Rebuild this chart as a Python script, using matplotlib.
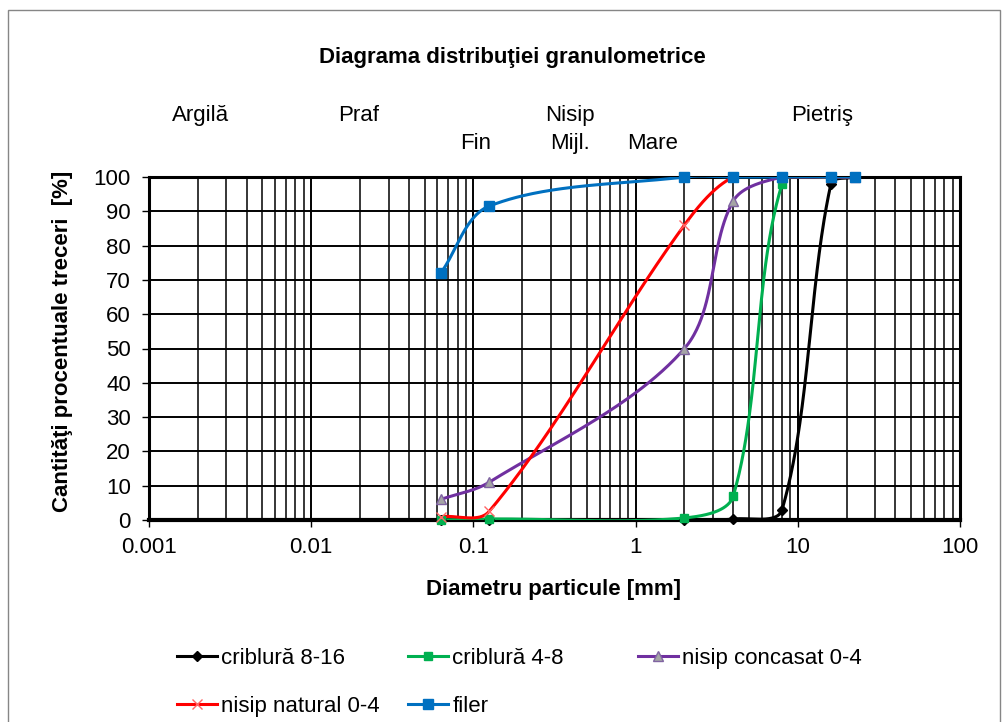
import numpy as np
import matplotlib
matplotlib.use("Agg")
import matplotlib.pyplot as plt
from matplotlib.patches import Rectangle
from matplotlib.lines import Line2D

plt.rcParams['font.family'] = ['Liberation Sans', 'DejaVu Sans']

# ---------------- data ----------------
sieves = [0.063, 0.125, 2, 4, 8, 16, 22.4]
criblura_8_16 = [0, 0, 0, 0.3, 3, 98, 100]
criblura_4_8 = [0, 0.3, 0.6, 7, 98, 100, 100]
nisip_concasat = [6, 11, 50, 93, 100, 100, 100]
nisip_natural = [1, 2.5, 86, 100, 100, 100, 100]
filer = [72, 91.5, 100, 100, 100, 100, 100]

series_names = ["criblură 8-16", "criblură 4-8", "nisip concasat 0-4",
                "nisip natural 0-4", "filer"]
zone_top = ["Argilă", "Praf", "Nisip", "Pietriş"]
zone_sub = ["Fin", "Mijl.", "Mare"]
xticks = [0.001, 0.01, 0.1, 1, 10, 100]
xticklabels = ["0.001", "0.01", "0.1", "1", "10", "100"]
yticks = list(range(0, 101, 10))

W, H = 1008, 722
FS = 16
fig = plt.figure(figsize=(W / 100, H / 100), dpi=100)

def fx(px):
    return px / W

def fy(py):
    return 1 - py / H

# outer chart border
fig.add_artist(Rectangle((fx(8), fy(730)), fx(1000) - fx(8), fy(10) - fy(730),
                         transform=fig.transFigure, fill=False,
                         edgecolor='#868686', lw=1.0))

ax = fig.add_axes([fx(149), fy(520), fx(960) - fx(149), fy(177) - fy(520)])
ax.set_xscale('log')
ax.set_xlim(0.001, 100)
ax.set_ylim(0, 100)

ax.set_xticks(xticks)
ax.set_xticklabels(xticklabels)
ax.set_yticks(yticks)
ax.xaxis.set_minor_locator(matplotlib.ticker.LogLocator(base=10, subs=np.arange(2, 10)))
ax.xaxis.set_minor_formatter(matplotlib.ticker.NullFormatter())
ax.grid(True, which='major', axis='both', color='black', lw=1.4)
ax.grid(True, which='minor', axis='x', color='black', lw=1.1)
ax.set_axisbelow(True)
ax.tick_params(axis='x', which='minor', length=0)
ax.tick_params(axis='x', which='major', length=5, width=1, labelsize=FS, pad=7)
ax.tick_params(axis='y', which='major', length=5, width=1, labelsize=FS, pad=8)
for s in ['left', 'top', 'right']:
    ax.spines[s].set_linewidth(2.2)
ax.spines['bottom'].set_linewidth(3)

fig.canvas.draw()

def smooth_points(xs, ys, nseg=80):
    pts = ax.transData.transform(np.column_stack([xs, ys]))
    n = len(pts)
    out = []
    t = np.linspace(0, 1, nseg)[:, None]
    f = 1.0 / 3.0
    for i in range(n - 1):
        p0 = pts[i - 1] if i > 0 else pts[i]
        p1 = pts[i]
        p2 = pts[i + 1]
        p3 = pts[i + 2] if i + 2 < n else pts[i + 1]
        d01 = np.hypot(*(p1 - p0))
        d12 = np.hypot(*(p2 - p1))
        d23 = np.hypot(*(p3 - p2))
        w1 = d12 / (d01 + d12) if (d01 + d12) > 0 else 0
        w2 = d12 / (d12 + d23) if (d12 + d23) > 0 else 0
        c1 = p1 + (p2 - p0) * f * w1
        c2 = p2 - (p3 - p1) * f * w2
        b = ((1 - t) ** 3) * p1 + 3 * ((1 - t) ** 2) * t * c1 \
            + 3 * (1 - t) * t ** 2 * c2 + t ** 3 * p2
        out.append(b)
    d = np.vstack(out)
    return ax.transData.inverted().transform(d)

styles = [
    dict(data=criblura_8_16, color='#000000', marker='D', ms=5, mfc='#000000', mec='#000000', mew=1),
    dict(data=criblura_4_8, color='#00B050', marker='s', ms=6, mfc='#00B050', mec='#00B050', mew=1),
    dict(data=nisip_concasat, color='#7030A0', marker='^', ms=7, mfc='#A5A5A5', mec='#8064A2', mew=1),
    dict(data=nisip_natural, color='#FF0000', marker='x', ms=7, mfc='none', mec='#FF6666', mew=1),
    dict(data=filer, color='#0070C0', marker='s', ms=7, mfc='#0070C0', mec='#0070C0', mew=1),
]
handles = []
for k, st in enumerate(styles):
    curve = smooth_points(sieves, st['data'])
    ax.plot(curve[:, 0], curve[:, 1], color=st['color'], lw=2.2, zorder=3 + k * 0.1,
            solid_capstyle='round')
    ax.plot(sieves, st['data'], ls='none', marker=st['marker'], ms=st['ms'],
            mfc=st['mfc'], mec=st['mec'], mew=st['mew'], zorder=4 + k * 0.1, clip_on=False)
    handles.append(Line2D([], [], color=st['color'], lw=2.2, marker=st['marker'],
                          ms=st['ms'], mfc=st['mfc'], mec=st['mec'], mew=st['mew']))

# titles & labels
fig.text(fx(512), fy(58), "Diagrama distribuţiei granulometrice", ha='center', va='center',
         fontsize=FS, fontweight='bold')
fig.text(fx(554), fy(590), "Diametru particule [mm]", ha='center', va='center',
         fontsize=FS, fontweight='bold')
fig.text(fx(63), fy(341), "Cantităţi procentuale treceri  [%]", ha='center', va='center',
         fontsize=FS, fontweight='bold', rotation=90)

top_x = [201, 359, 570, 822]
for lab, x in zip(zone_top, top_x):
    fig.text(fx(x), fy(121), lab, ha='center', va='baseline', fontsize=FS)
sub_x = [476, 570, 653]
for lab, x in zip(zone_sub, sub_x):
    fig.text(fx(x), fy(149), lab, ha='center', va='baseline', fontsize=FS)

# legend: three columns placed individually
cols = [([0, 3], 177), ([1, 4], 408), ([2], 638)]
for idxs, xpx in cols:
    fig.legend([handles[i] for i in idxs], [series_names[i] for i in idxs],
               loc='upper left', bbox_to_anchor=(fx(xpx), fy(648)),
               frameon=False, fontsize=FS, handlelength=1.8, handletextpad=0.2,
               labelspacing=1.22, borderaxespad=0, borderpad=0)

fig.savefig("out.png", dpi=100)
